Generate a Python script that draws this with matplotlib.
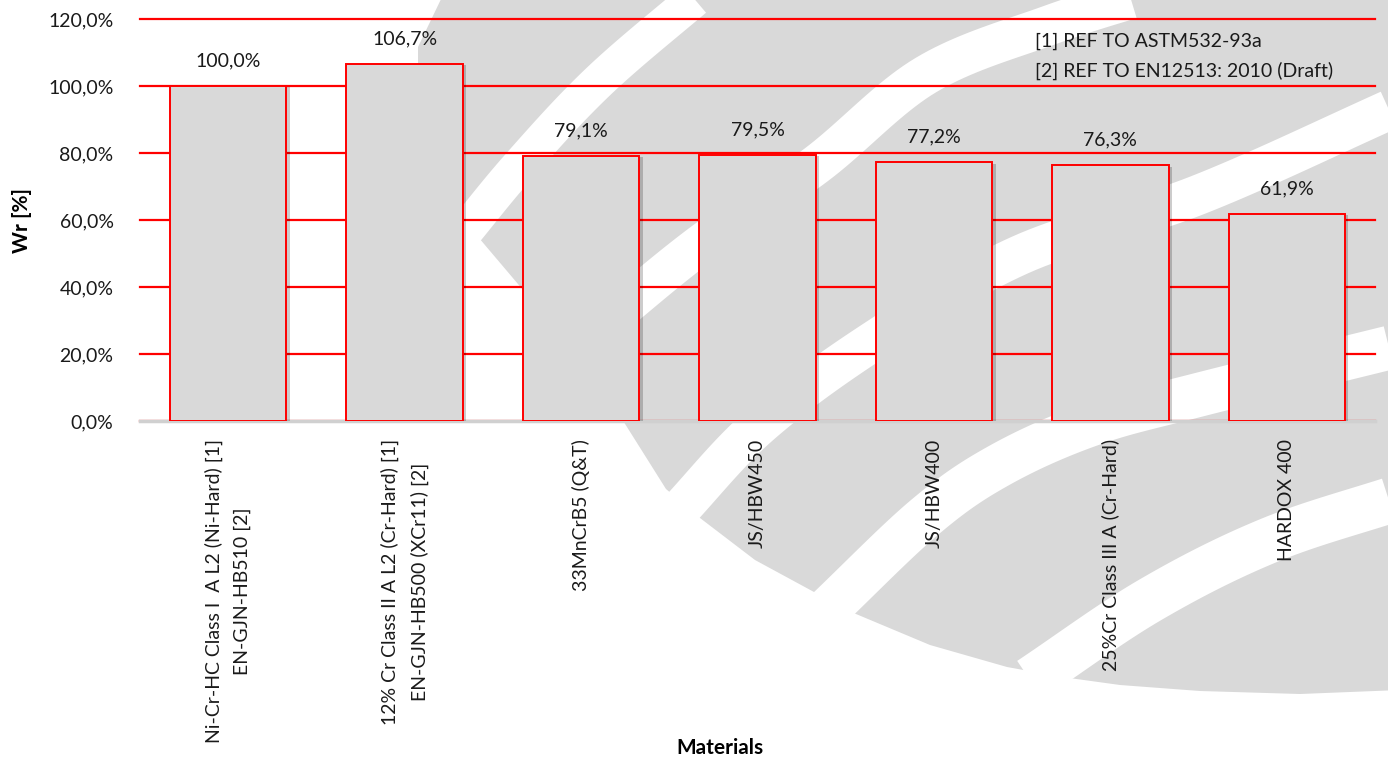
import numpy as np
import matplotlib
matplotlib.use("Agg")
import matplotlib.pyplot as plt
from matplotlib import patheffects as pe
from matplotlib.patches import Polygon

# data
materials = ["Ni-Cr-HC Class I  A L2 (Ni-Hard) [1]\nEN-GJN-HB510 [2]",
             "12% Cr Class II A L2 (Cr-Hard) [1]\nEN-GJN-HB500 (XCr11) [2]",
             "33MnCrB5 (Q&T)",
             "JS/HBW450",
             "JS/HBW400",
             "25%Cr Class III A (Cr-Hard)",
             "HARDOX 400"]
wear_rate = [100.0, 106.7, 79.1, 79.5, 77.2, 76.3, 61.9]
y_ticks = [0, 20, 40, 60, 80, 100, 120]
notes = ["[1] REF TO ASTM532-93a", "[2] REF TO EN12513: 2010 (Draft)"]

W, H = 1388, 762
plt.rcParams['font.family'] = ['Lato', 'DejaVu Sans']

def pct(v):
    return ("%.1f%%" % v).replace(".", ",")

def smooth(pts, n=20):
    #catmull-rom through the points, just for the watermark curves
    pts = np.asarray(pts, float)
    p = np.vstack([2*pts[0]-pts[1], pts, 2*pts[-1]-pts[-2]])
    t = np.linspace(0, 1, n, endpoint=False)[:, None]
    out = []
    for i in range(1, len(p)-2):
        p0, p1, p2, p3 = p[i-1], p[i], p[i+1], p[i+2]
        out.append(0.5*(2*p1 + (-p0+p2)*t + (2*p0-5*p1+4*p2-p3)*t**2
                        + (-p0+3*p1-3*p2+p3)*t**3))
    out.append(pts[-1:])
    return np.vstack(out)

fig = plt.figure(figsize=(W/100, H/100), dpi=100)

#grey logo watermark in the background (pixel coords)
bg = fig.add_axes([0, 0, 1, 1], zorder=0)
bg.set_xlim(0, W)
bg.set_ylim(H, 0)
bg.axis("off")
outline = [(443, -5), (1400, -5), (1400, 690), (1300, 694), (1200, 691),
           (1120, 685), (1062, 677), (1007, 667), (930, 645), (856, 614),
           (814, 592), (755, 560), (700, 518), (666, 489), (610, 400),
           (540, 310), (479, 238), (440, 180), (418, 100), (418, 47)]
bg.add_patch(Polygon(outline, closed=True, fc="#d9d9d9", ec="none"))
stripes = [
    ([(705, -10), (600, 80), (520, 165), (462, 235)], 36),
    ([(1160, -10), (1050, 25), (926, 75), (816, 165), (700, 245), (590, 335)], 40),
    ([(675, 515), (760, 425), (875, 340), (1020, 255), (1198, 195), (1400, 105)], 40),
    ([(825, 612), (925, 517), (1000, 465), (1092, 424), (1198, 395), (1400, 345)], 44),
    ([(1030, 680), (1150, 600), (1270, 540), (1400, 497)], 46),
]
for pts, w in stripes:
    xy = smooth(pts)
    bg.plot(xy[:, 0], xy[:, 1], color="white", lw=w*0.72, solid_capstyle="butt")

ax = fig.add_axes([140/W, 1-421/H, 1235/W, 402/H], zorder=1)
ax.patch.set_alpha(0)
x = np.arange(len(materials))
bars = ax.bar(x, wear_rate, 0.66, color="#d9d9d9", edgecolor="red", lw=1.4, zorder=3)
for b in bars:
    b.set_path_effects([pe.SimplePatchShadow(offset=(2.5, -1), shadow_rgbFace="black", alpha=0.2),
                        pe.Normal()])
for xi, v in zip(x, wear_rate):
    ax.annotate(pct(v), (xi, v), xytext=(0, 12), textcoords="offset points",
                ha="center", va="bottom", fontsize=14, color="#1a1a1a")

ax.set_ylim(0, 120)
ax.set_xlim(-0.5, 6.5)
ax.set_yticks(y_ticks)
ax.set_yticklabels([pct(v) for v in y_ticks], fontsize=14, color="#1a1a1a")
ax.yaxis.grid(True, color="red", lw=1.6)
for gl in ax.get_ygridlines():
    gl.set_clip_on(False)
ax.set_axisbelow(True)
ax.axhline(0, color="#d0d0d0", lw=2.5, zorder=2, clip_on=False)
ax.set_xticks(x)
ax.set_xticklabels(materials, rotation=90, fontsize=14, linespacing=1.75,
                   ha="center", va="top", multialignment="center", color="#1a1a1a")
ax.tick_params(axis="both", length=0)
ax.tick_params(axis="y", pad=19)
ax.tick_params(axis="x", pad=13)
for s in ax.spines.values():
    s.set_visible(False)

fig.text(22/W, 1-220/H, "Wr [%]", rotation=90, fontsize=15, fontweight="bold",
         ha="center", va="center")
fig.text(720/W, 1-748/H, "Materials", fontsize=15, fontweight="bold",
         ha="center", va="center")
fig.text(1035/W, 1-41/H, notes[0], fontsize=14, va="center", color="#1a1a1a")
fig.text(1035/W, 1-71/H, notes[1], fontsize=14, va="center", color="#1a1a1a")

fig.savefig("out.png", dpi=100)
